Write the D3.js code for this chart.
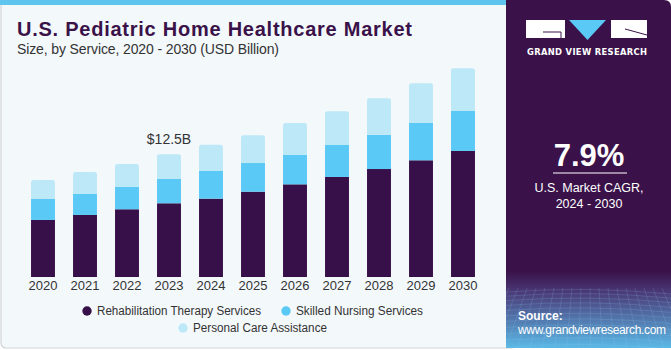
<!DOCTYPE html>
<html><head><meta charset="utf-8">
<script src="https://cdn.jsdelivr.net/npm/d3@7"></script>
<style>html,body{margin:0;padding:0;background:#fff;}svg{display:block;}</style>
</head><body>
<script>
const years = ["2020","2021","2022","2023","2024","2025","2026","2027","2028","2029","2030"];
const rehab   = [5.81, 6.32, 6.90, 7.51, 7.98, 8.69, 9.44, 10.19, 11.00, 11.89, 12.84];
const nursing = [2.14, 2.14, 2.30, 2.48, 2.82, 2.92, 3.02, 3.26, 3.49, 3.80, 4.07];
const personal= [1.94, 2.24, 2.31, 2.51, 2.68, 2.82, 3.23, 3.43, 3.71, 4.04, 4.35];
const seriesNames = ["Rehabilitation Therapy Services","Skilled Nursing Services","Personal Care Assistance"];
const colors = ["#381049","#5bc9f5","#bde8f8"];
const annotation = {year:"2023", label:"$12.5B"};

const W=671,H=350;
const svg=d3.select("body").append("svg").attr("width",W).attr("height",H);
const defs=svg.append("defs");
const font="'Liberation Sans', Arial, sans-serif";

// left panel
svg.append("rect").attr("x",1).attr("y",1).attr("width",515).attr("height",347).attr("rx",5)
  .attr("fill","#f3f8fb").attr("stroke","#cfd3d6").attr("stroke-width",1.2);
svg.append("rect").attr("x",0).attr("y",0).attr("width",510).attr("height",5).attr("fill","#5ec6ee");

// right panel
const g1=defs.append("linearGradient").attr("id","pg").attr("x1",0).attr("y1",0).attr("x2",0).attr("y2",1);
g1.append("stop").attr("offset","0").attr("stop-color","#3a1249");
g1.append("stop").attr("offset","0.78").attr("stop-color","#3a1249");
g1.append("stop").attr("offset","0.84").attr("stop-color","#4a3a78");
g1.append("stop").attr("offset","1").attr("stop-color","#5ab9e6");
const clip=defs.append("clipPath").attr("id","rc");
clip.append("path").attr("d","M506,0 H664 Q671,0 671,7 V348 H506 Z");
svg.append("path").attr("d","M506,0 H664 Q671,0 671,7 V348 H506 Z").attr("fill","url(#pg)");
// faint grid in bottom area
const grid=svg.append("g").attr("clip-path","url(#rc)").attr("stroke","#9fc9ec").attr("stroke-opacity",0.25).attr("stroke-width",0.7).attr("fill","none");
for(let i=0;i<14;i++){const y=292+i*4+i*i*0.15;grid.append("path").attr("d",`M506,${y} Q588,${y-6} 671,${y+2}`);}
for(let i=0;i<22;i++){const x=500+i*9;grid.append("path").attr("d",`M${x},288 L${x+(x-588)*0.35},348`);}

// logo
const lg=svg.append("g");
lg.append("rect").attr("x",526).attr("y",20).attr("width",39).attr("height",18).attr("fill","#fff");
lg.append("path").attr("d","M543,32 H561 V38").attr("stroke","#3a1249").attr("stroke-width",1).attr("fill","none");
lg.append("path").attr("d","M569,20 H606 L587.5,40 Z").attr("fill","#5bc9f5");
lg.append("rect").attr("x",611).attr("y",20).attr("width",36).attr("height",18).attr("fill","#fff");
lg.append("path").attr("d","M625,29 L647,35").attr("stroke","#3a1249").attr("stroke-width",1).attr("fill","none");
svg.append("text").attr("x",527).attr("y",55).attr("fill","#fff")
  .attr("font-family","'DejaVu Sans', sans-serif").attr("font-weight","bold").attr("font-size",8.4)
  .attr("textLength",120).text("GRAND VIEW RESEARCH");

svg.append("text").attr("x",589).attr("y",166).attr("text-anchor","middle").attr("fill","#fff")
  .attr("font-family",font).attr("font-weight","bold").attr("font-size",31).text("7.9%");
svg.append("line").attr("x1",553).attr("x2",627).attr("y1",173).attr("y2",173).attr("stroke","#fff").attr("stroke-width",1);
svg.append("text").attr("x",589).attr("y",192).attr("text-anchor","middle").attr("fill","#fff")
  .attr("font-family",font).attr("font-size",12.5).text("U.S. Market CAGR,");
svg.append("text").attr("x",589).attr("y",208).attr("text-anchor","middle").attr("fill","#fff")
  .attr("font-family",font).attr("font-size",12.5).text("2024 - 2030");
svg.append("text").attr("x",518).attr("y",320).attr("fill","#fff").attr("font-family",font).attr("font-weight","bold")
  .attr("font-size",12).text("Source:");
svg.append("text").attr("x",518).attr("y",334).attr("fill","#fff").attr("font-family",font)
  .attr("font-size",12).attr("textLength",148).text("www.grandviewresearch.com");

// titles
svg.append("text").attr("x",17).attr("y",36).attr("fill","#3a1249").attr("font-family",font).attr("font-weight","bold")
  .attr("font-size",20).attr("textLength",395).text("U.S. Pediatric Home Healthcare Market");
svg.append("text").attr("x",17).attr("y",54).attr("fill","#333").attr("font-family",font)
  .attr("font-size",14).attr("textLength",262).text("Size, by Service, 2020 - 2030 (USD Billion)");

// chart
const x=d3.scaleBand().domain(years).range([22,484]).paddingInner(0.43).paddingOuter(0.215);
const y=d3.scaleLinear().domain([0,22]).range([277,277-22*9.816]);
const data=years.map((yr,i)=>({year:yr,a:rehab[i],b:nursing[i],c:personal[i]}));
const stack=d3.stack().keys(["a","b","c"])(data);
const bw=x.bandwidth();
function rr(x0,y0,w,h,r){return `M${x0},${y0+h} V${y0+r} Q${x0},${y0} ${x0+r},${y0} H${x0+w-r} Q${x0+w},${y0} ${x0+w},${y0+r} V${y0+h} Z`;}
stack.forEach((s,si)=>{
  const gs=svg.append("g").attr("fill",colors[si]);
  s.forEach(d=>{
    const x0=x(d.data.year),y0=y(d[1]),h=y(d[0])-y(d[1]);
    if(si===2) gs.append("path").attr("d",rr(x0,y0,bw,h,2.5));
    else gs.append("rect").attr("x",x0).attr("y",y0).attr("width",bw).attr("height",h);
  });
});
// axis
const ax=svg.append("g").attr("transform","translate(0,277)").call(d3.axisBottom(x).tickSize(0).tickPadding(5));
ax.select(".domain").remove();
ax.selectAll("text").attr("font-family",font).attr("font-size",13).attr("fill","#333").attr("dy","0.71em").attr("y",4);

// annotation
const ai=years.indexOf(annotation.year);
svg.append("text").attr("x",x(annotation.year)+bw/2).attr("y",y(rehab[ai]+nursing[ai]+personal[ai])-10)
  .attr("text-anchor","middle").attr("fill","#333").attr("font-family",font).attr("font-size",14).text(annotation.label);

// legend
const leg=[{i:0,cx:87,cy:311,tx:97,tl:164},{i:1,cx:286,cy:311,tx:296,tl:127},{i:2,cx:183,cy:328,tx:193,tl:134}];
leg.forEach(l=>{
  svg.append("circle").attr("cx",l.cx).attr("cy",l.cy).attr("r",4.7).attr("fill",colors[l.i]);
  svg.append("text").attr("x",l.tx).attr("y",l.cy+4.3).attr("fill","#333").attr("font-family",font).attr("font-size",12.5)
    .attr("textLength",l.tl).attr("lengthAdjust","spacingAndGlyphs").text(seriesNames[l.i]);
});
</script>
</body></html>
